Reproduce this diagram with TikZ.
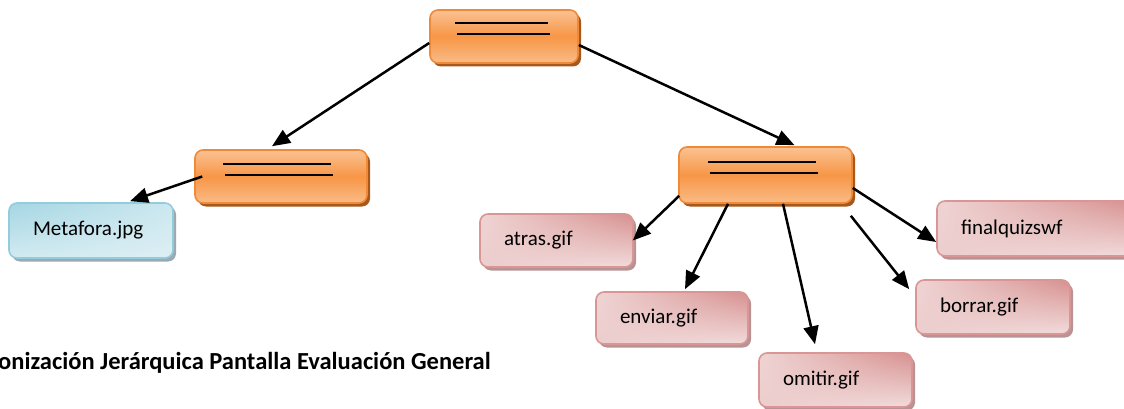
\documentclass[tikz,border=0pt]{standalone}
\usepackage{fontspec}
\setmainfont{Carlito}
\usetikzlibrary{arrows.meta,calc,shadings}
\definecolor{orgA}{HTML}{FAC292}
\definecolor{orgB}{HTML}{F79646}
\definecolor{orgE}{HTML}{EE8A3A}
\definecolor{orgS}{HTML}{A8581A}
\definecolor{pnkE}{HTML}{D99694}
\definecolor{pnkL}{HTML}{F2DCDC}
\definecolor{pnkD}{HTML}{D6908F}
\definecolor{pnkS}{HTML}{B89294}
\definecolor{bluE}{HTML}{93CDDD}
\definecolor{bluL}{HTML}{DDEFF4}
\definecolor{bluD}{HTML}{A4D6E3}
\definecolor{bluS}{HTML}{9AAAB0}
\tikzset{
  x=1pt,y=-1pt,
  box/.style={rounded corners=8pt, line width=1.6pt, inner sep=0pt, font=\fontsize{21}{24}\selectfont, align=left},
  orangebox/.style={box, draw=orgE, top color=orgA, bottom color=orgA!85!orgB, middle color=orgB,
    preaction={fill=orgS, rounded corners=8pt, transform canvas={xshift=3pt,yshift=-3.5pt}}},
  pinkbox/.style={box, draw=pnkE, upper right=pnkD, upper left=pnkL!90!pnkD, lower left=pnkL!80!pnkD, lower right=pnkL,
    preaction={fill=pnkS, rounded corners=8pt, transform canvas={xshift=3pt,yshift=-3.5pt}}},
  bluebox/.style={box, draw=bluE, upper left=bluD, upper right=bluL!70!bluD, lower left=bluL!80!bluD, lower right=bluL,
    preaction={fill=bluS, rounded corners=8pt, transform canvas={xshift=3pt,yshift=-3.5pt}}},
  arr/.style={line width=2.5pt, -{Triangle[length=18pt,width=15pt]}},
  bar/.style={line width=2pt}
}
\begin{document}
\begin{tikzpicture}
\useasboundingbox (0,0) rectangle (1124,409);
\clip (0,0) rectangle (1124,409);
% orange boxes
\node[orangebox, minimum width=148pt, minimum height=53pt] (top) at (504,36.5) {};
\node[orangebox, minimum width=172pt, minimum height=53pt] (lm) at (281,176.5) {};
\node[orangebox, minimum width=173pt, minimum height=56pt] (rm) at (765.5,175) {};
% double bars
\draw[bar] ([xshift=-49pt,yshift=13pt]top.center) -- ([xshift=44pt,yshift=13pt]top.center);
\draw[bar] ([xshift=-47pt,yshift=2pt]top.center) -- ([xshift=46pt,yshift=2pt]top.center);
\draw[bar] ([xshift=-58pt,yshift=12.5pt]lm.center) -- ([xshift=50pt,yshift=12.5pt]lm.center);
\draw[bar] ([xshift=-56pt,yshift=1.5pt]lm.center) -- ([xshift=52pt,yshift=1.5pt]lm.center);
\draw[bar] ([xshift=-57.5pt,yshift=13pt]rm.center) -- ([xshift=50pt,yshift=13pt]rm.center);
\draw[bar] ([xshift=-55.5pt,yshift=2pt]rm.center) -- ([xshift=52pt,yshift=2pt]rm.center);
% leaf boxes
\node[bluebox, minimum width=164pt, minimum height=55pt, text width=116pt] (meta) at (91,230.5) {Metafora.jpg};
\node[pinkbox, minimum width=153pt, minimum height=53pt, text width=105pt] (atr) at (556.5,240.5) {atras.gif};
\node[pinkbox, minimum width=152pt, minimum height=52pt, text width=104pt] (env) at (672,318) {enviar.gif};
\node[pinkbox, minimum width=153pt, minimum height=54pt, text width=105pt] (omi) at (835.5,380) {omitir.gif};
\node[pinkbox, minimum width=154pt, minimum height=54pt, text width=106pt] (bor) at (993,307) {borrar.gif};
\node[pinkbox, minimum width=200pt, minimum height=55pt, text width=152pt] (fin) at (1037,228.5) {finalquizswf};
% connectors
\draw[arr] ([yshift=-6.5pt]top.west) -- ([xshift=-9pt,yshift=3pt]lm.north);
\draw[arr] ([yshift=-8.5pt]top.east) -- ([xshift=29pt,yshift=1pt]rm.north);
\draw[arr] ([xshift=8pt]lm.west) -- ([xshift=39pt,yshift=1pt]meta.north);
\draw[arr] ([xshift=1pt,yshift=8pt]rm.south west) -- ([xshift=-1pt]atr.east);
\draw[arr] ([xshift=-37.5pt]rm.south) -- ([xshift=13pt,yshift=2pt]env.north);
\draw[arr] ([xshift=17.5pt]rm.south) -- ([xshift=-20.5pt,yshift=8pt]omi.north);
\draw[arr] ([xshift=-2pt,yshift=-12pt]rm.south east) -- ([xshift=-6pt,yshift=-10pt]bor.north west);
\draw[arr] ([yshift=-13pt]rm.east) -- ([yshift=-13.5pt]fin.west);
% caption
\node[anchor=west, inner sep=0pt, font=\bfseries\fontsize{24.5}{28}\selectfont] (cap) at (-2,363) {onización Jerárquica Pantalla Evaluación General};
\end{tikzpicture}
\end{document}
